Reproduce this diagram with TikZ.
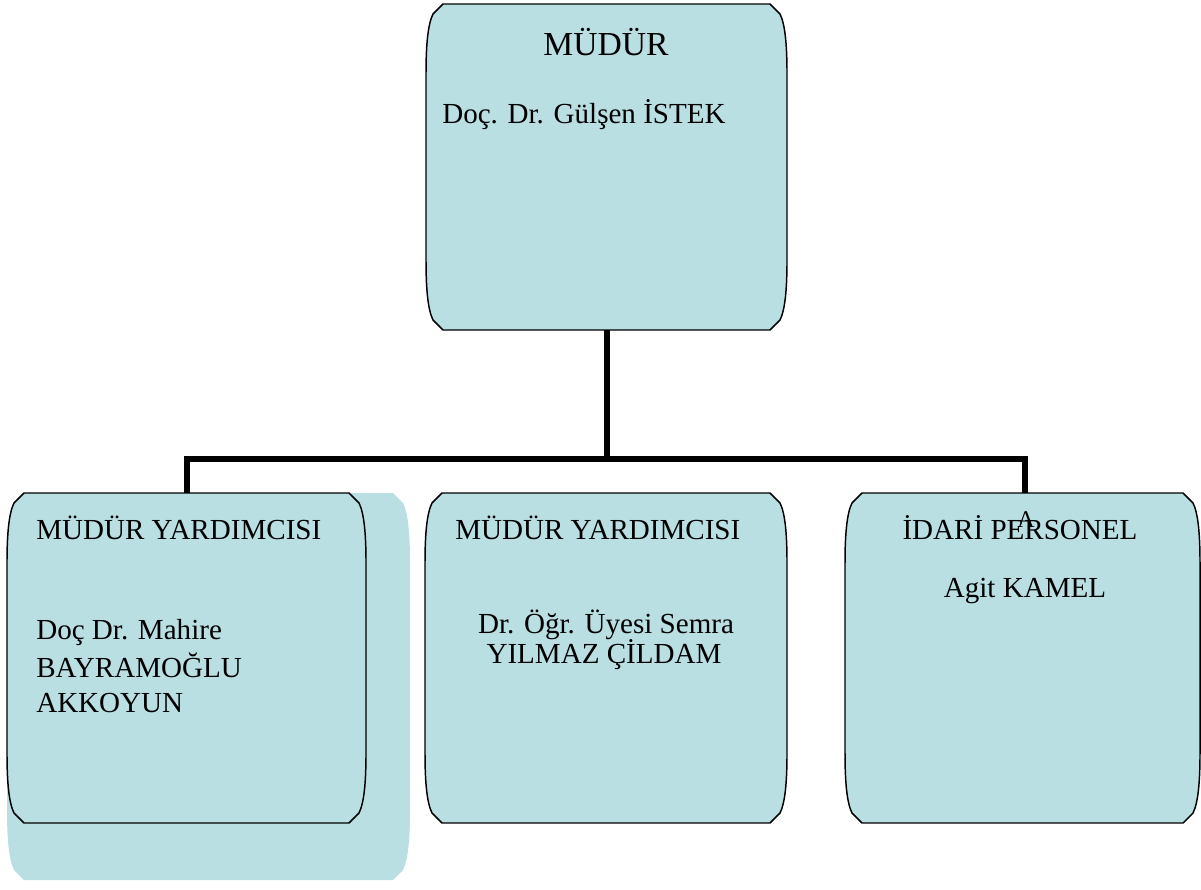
\documentclass[tikz,border=0pt]{standalone}
\usepackage{fontspec}
\setmainfont{Liberation Serif}
\usetikzlibrary{calc}
\definecolor{boxfill}{RGB}{185,223,227}
\newcommand\orgshape[1]{%
 ($(#1.north west)+(17,0)$) -- ($(#1.north east)+(-17,0)$) -- ($(#1.north east)+(-7,10)$)
 .. controls ($(#1.north east)+(-2,20)$) and ($(#1.north east)+(0,40)$) .. ($(#1.north east)+(0,70)$)
 -- ($(#1.south east)+(0,-70)$)
 .. controls ($(#1.south east)+(0,-40)$) and ($(#1.south east)+(-2,-20)$) .. ($(#1.south east)+(-7,-10)$)
 -- ($(#1.south east)+(-17,0)$) -- ($(#1.south west)+(17,0)$) -- ($(#1.south west)+(7,-10)$)
 .. controls ($(#1.south west)+(2,-20)$) and ($(#1.south west)+(0,-40)$) .. ($(#1.south west)+(0,-70)$)
 -- ($(#1.north west)+(0,70)$)
 .. controls ($(#1.north west)+(0,40)$) and ($(#1.north west)+(2,20)$) .. ($(#1.north west)+(7,10)$)
 -- cycle}
\begin{document}
\begin{tikzpicture}[x=0.75pt,y=-0.75pt,
  frame/.style={anchor=north west,inner sep=0pt,outer sep=0pt},
  boxline/.style={draw=black,line width=1.1pt,fill=boxfill},
  conn/.style={draw=black,line width=4.5pt,line join=miter},
  txt/.style={inner sep=0pt,font=\fontsize{21.8}{26}\selectfont},
  bigtxt/.style={inner sep=0pt,font=\fontsize{25.2}{30}\selectfont}]
\useasboundingbox (0,0) rectangle (1201,889);
% frames
\node[frame,minimum width=302.25pt,minimum height=290.25pt] (lshadow) at (7,493) {};
\node[frame,minimum width=269.25pt,minimum height=247.5pt] (lbox) at (7,493) {};
\node[frame,minimum width=270.75pt,minimum height=244.5pt] (top) at (426,4) {};
\node[frame,minimum width=271.5pt,minimum height=247.5pt] (mbox) at (425,493) {};
\node[frame,minimum width=266.25pt,minimum height=247.5pt] (rbox) at (845,493) {};
% shapes
\fill[boxfill] \orgshape{lshadow};
\path[boxline] \orgshape{lbox};
\path[boxline] \orgshape{top};
\path[boxline] \orgshape{mbox};
\path[boxline] \orgshape{rbox};
% connectors
\coordinate (bus) at (606,459);
\coordinate (lbusend) at (187,459);
\coordinate (rbusend) at (1025,459);
\draw[conn] (top.south) -- (top.south |- bus);
\draw[conn] (lbusend |- lbox.north) -- (lbusend) -- (rbusend) -- (rbusend |- rbox.north);
% texts
\node[bigtxt,anchor=base] (t1) at (606,55) {MÜDÜR};
\node[txt,anchor=base west] (t2) at (442,123) {Doç. Dr. Gülşen İSTEK};
\node[txt,anchor=base west] (l1) at (36,539) {MÜDÜR YARDIMCISI};
\node[txt,anchor=base west] (l2) at (36,639) {Doç Dr. Mahire};
\node[txt,anchor=base west] (l3) at (36,677) {BAYRAMOĞLU};
\node[txt,anchor=base west] (l4) at (36,712) {AKKOYUN};
\node[txt,anchor=base west] (m1) at (455,539) {MÜDÜR YARDIMCISI};
\node[txt,anchor=base] (m2) at (606,633) {Dr. Öğr. Üyesi Semra};
\node[txt,anchor=base] (m3) at (604,663) {YILMAZ ÇİLDAM};
\node[txt,anchor=base] (r1) at (1020,539) {İDARİ PERSONEL};
\node[txt,anchor=base] (r2) at (1025,597) {Agit KAMEL};
\node[inner sep=0pt,anchor=base,font=\fontsize{18}{22}\selectfont] (r0) at (1026,527) {A};
\end{tikzpicture}
\end{document}
